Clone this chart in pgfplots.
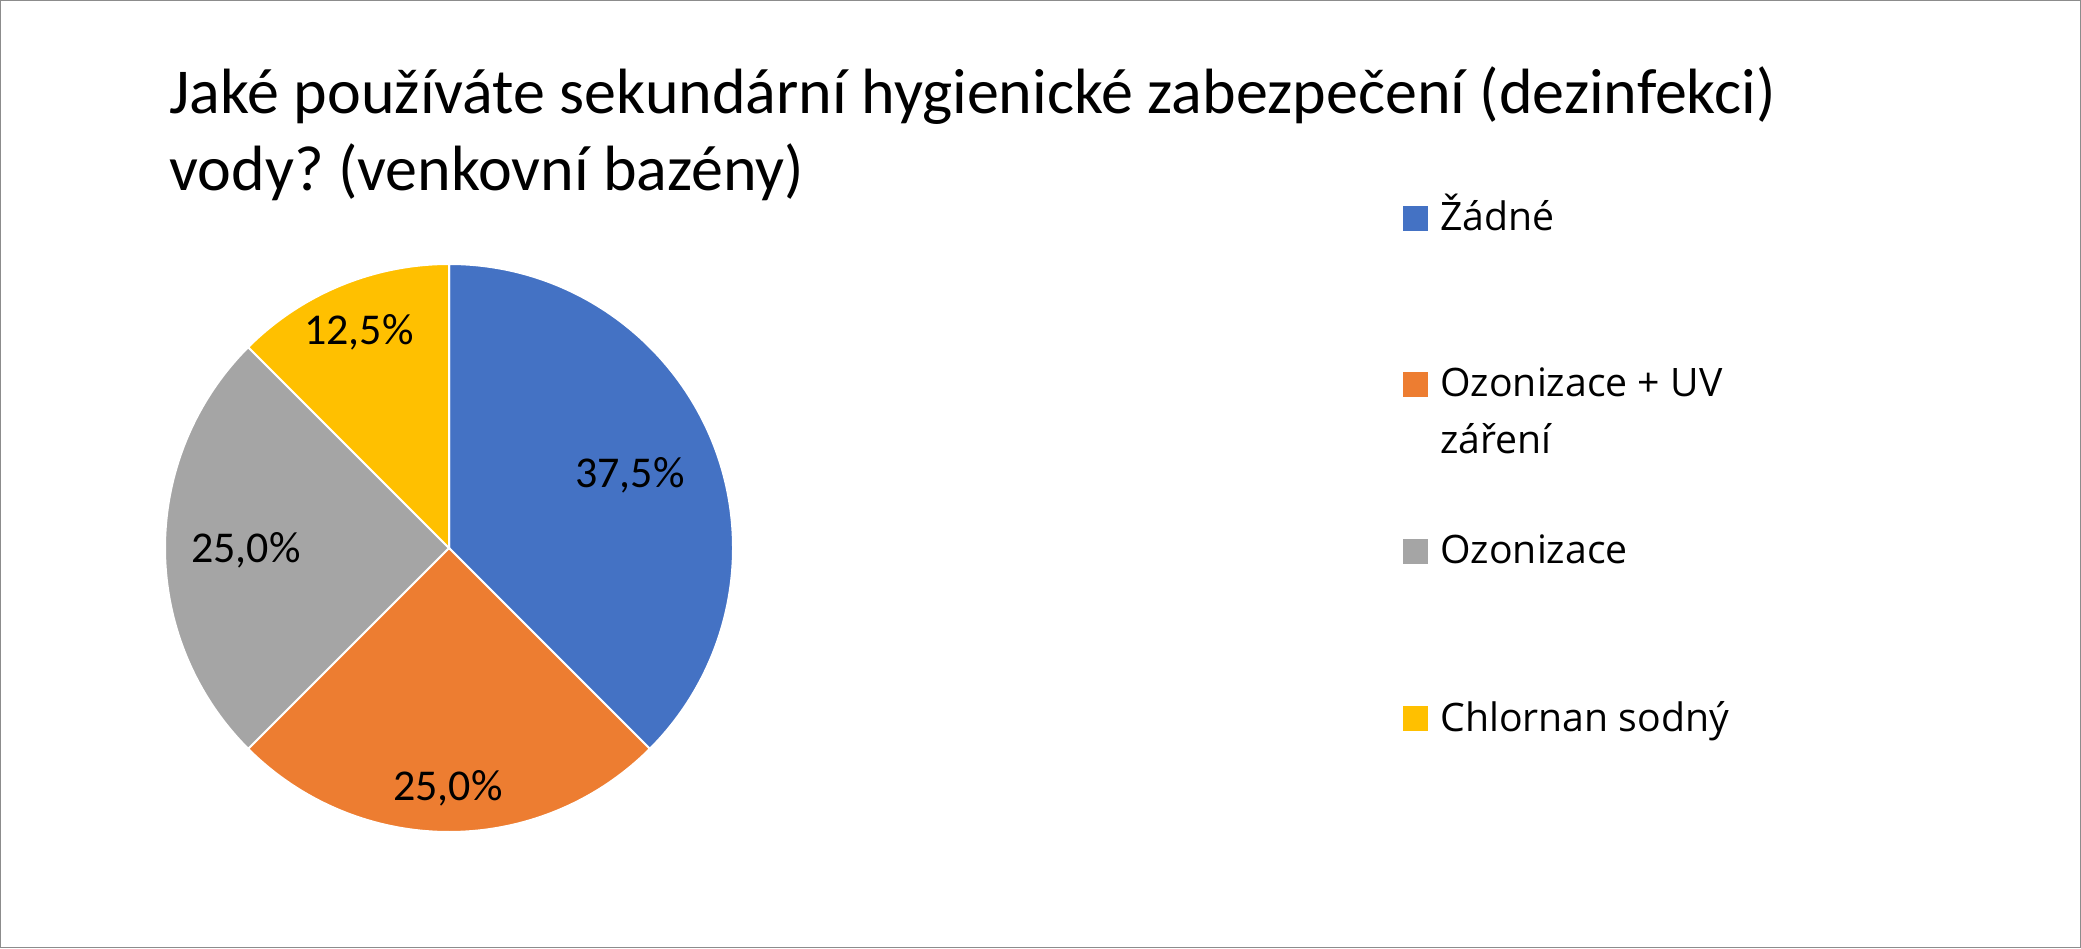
\documentclass[border=0pt]{standalone}
\usepackage{pgfplots}
\pgfplotsset{compat=1.18}
\usepackage{pgfplotstable}
\usepackage{fontspec}
\setmainfont{Carlito}
\newfontfamily\legendfont{Open Sans}
\frenchspacing

\definecolor{sBlue}{HTML}{4472C4}
\definecolor{sOrange}{HTML}{ED7D31}
\definecolor{sGray}{HTML}{A5A5A5}
\definecolor{sGold}{HTML}{FFC000}
\definecolor{frameGray}{HTML}{8C8C8C}

% share in percent, label position (px from the left, px from the bottom), colour
\pgfplotstableread[col sep=comma]{
value,lx,ly,col
37.5,630,473,sBlue
25.0,448,160,sOrange
25.0,246,398,sGray
12.5,359,616,sGold
}\piedata

\begin{document}
\begin{tikzpicture}
\begin{axis}[
    x=0.5pt, y=0.5pt,
    xmin=0, xmax=2081, ymin=0, ymax=948,
    hide axis,
    clip=false,
]
    % frame
    \draw[frameGray, line width=0.75pt] (axis cs:0.75,0.75) rectangle (axis cs:2080.25,947.25);

    % title
    \node[anchor=base west, inner sep=0pt, font=\fontsize{32}{38}\selectfont] at (axis cs:169,834)
        {Jaké používáte sekundární hygienické zabezpečení (dezinfekci)};
    \node[anchor=base west, inner sep=0pt, font=\fontsize{32}{38}\selectfont] at (axis cs:169,757)
        {vody? (venkovní bazény)};

    % slices, clockwise from the top
    \def\ang{90}
    \pgfplotsforeachungrouped \i in {0,1,2,3}{
        \pgfplotstablegetelem{\i}{value}\of\piedata \let\sval\pgfplotsretval
        \pgfplotstablegetelem{\i}{col}\of\piedata \let\scol\pgfplotsretval
        \pgfplotstablegetelem{\i}{lx}\of\piedata \let\slx\pgfplotsretval
        \pgfplotstablegetelem{\i}{ly}\of\piedata \let\sly\pgfplotsretval
        \pgfmathsetmacro{\angb}{\ang-3.6*\sval}
        \edef\temp{
            \noexpand\fill[\scol, draw=white, line width=1pt] (axis cs:449,400) -- +(\ang:142pt)
                arc[start angle=\ang, end angle=\angb, radius=142pt] -- cycle;
            \noexpand\node[font=\noexpand\fontsize{22}{26}\noexpand\selectfont] at (axis cs:\slx,\sly)
                {\noexpand\pgfmathprintnumber[fixed, fixed zerofill, precision=1, use comma, assume math mode=true]{\sval}\noexpand\%};
        }
        \temp
        \global\let\ang\angb
    }

    % legend
    \fill[sBlue]   (axis cs:1403,717) rectangle (axis cs:1428,742);
    \fill[sOrange] (axis cs:1403,551) rectangle (axis cs:1428,576);
    \fill[sGray]   (axis cs:1403,384) rectangle (axis cs:1428,409);
    \fill[sGold]   (axis cs:1403,217) rectangle (axis cs:1428,242);
    \begin{scope}[every node/.style={anchor=base west, inner sep=0pt, font=\legendfont\fontsize{19.6}{24}\selectfont}]
        \node at (axis cs:1440,717) {Žádné};
        \node at (axis cs:1440,551) {Ozonizace + UV};
        \node at (axis cs:1440,494) {záření};
        \node at (axis cs:1440,384) {Ozonizace};
        \node at (axis cs:1440,217) {Chlornan sodný};
    \end{scope}
\end{axis}
\end{tikzpicture}
\end{document}
